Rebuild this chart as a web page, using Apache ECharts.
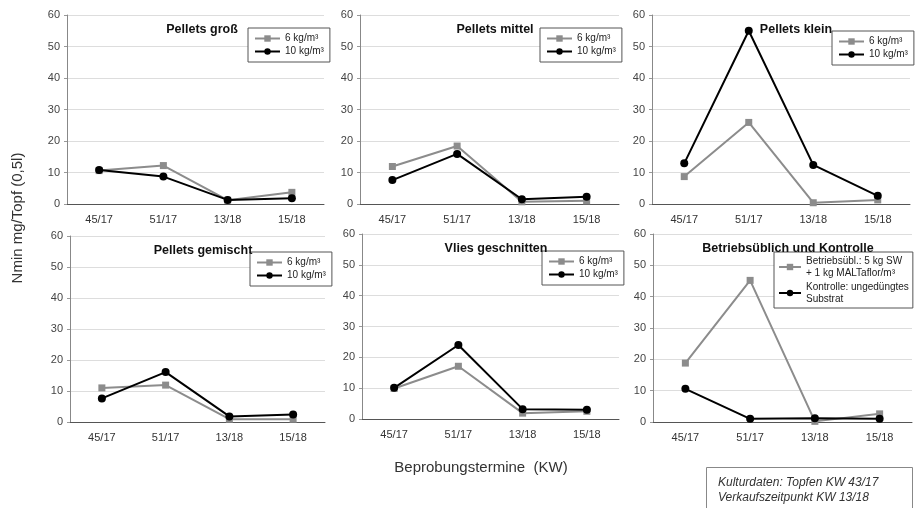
<!DOCTYPE html>
<html lang="de">
<head>
    <meta charset="UTF-8">
    <title>Nmin Pellets</title>
    <script src="https://cdn.jsdelivr.net/npm/echarts@6/dist/echarts.min.js"></script>
    <style>
        body { margin: 0; background: #fff; }
        #chart { width: 920px; height: 508px; }
    </style>
</head>
<body>
<div id="chart"></div>
<script type="text/javascript">
    // sampling dates (KW)
    let termine = ['45/17', '51/17', '13/18', '15/18'];
    let yTicks = [0, 10, 20, 30, 40, 50, 60];

    let titles = ['Pellets groß', 'Pellets mittel', 'Pellets klein',
        'Pellets gemischt', 'Vlies geschnitten', 'Betriebsüblich und Kontrolle'];

    // 6 kg/m³ (grey) values per panel
    let grossSechs = [10.6, 12.2, 1.2, 3.7];
    let mittelSechs = [11.9, 18.4, 0.7, 1.0];
    let kleinSechs = [8.7, 25.9, 0.4, 1.3];
    let gemischtSechs = [11.0, 11.9, 0.9, 0.9];
    let vliesSechs = [9.9, 17.1, 1.9, 2.5];
    let betriebsueblich = [18.8, 45.2, 0.2, 2.6];

    // 10 kg/m³ (black) values per panel
    let grossZehn = [10.8, 8.7, 1.3, 1.8];
    let mittelZehn = [7.6, 15.9, 1.5, 2.3];
    let kleinZehn = [12.9, 55.0, 12.4, 2.6];
    let gemischtZehn = [7.6, 16.1, 1.8, 2.4];
    let vliesZehn = [10.1, 24.0, 3.2, 3.0];
    let kontrolle = [10.6, 1.0, 1.2, 1.0];

    let greySeries = [grossSechs, mittelSechs, kleinSechs, gemischtSechs, vliesSechs, betriebsueblich];
    let blackSeries = [grossZehn, mittelZehn, kleinZehn, gemischtZehn, vliesZehn, kontrolle];

    let nameSechs = '6 kg/m³';
    let nameZehn = '10 kg/m³';
    let nameBetrieb = 'Betriebsübl.: 5 kg SW\n+ 1 kg MALTaflor/m³';
    let nameKontrolle = 'Kontrolle: ungedüngtes\nSubstrat';

    let font = 'Liberation Sans, Arial, sans-serif';

    // plot areas [left, top, width, height]
    let grids = [
        [67, 15, 257, 189],
        [360, 15, 259, 189],
        [652, 15, 258, 189],
        [70, 236, 255, 186],
        [362, 234, 257, 185],
        [653, 234, 259, 188]
    ];
    // title centres (x) and legend boxes [left, top]
    let titleX = [197, 490, 791, 198, 491, 783];
    let legendPos = [[248, 28], [540, 28], [832, 31], [250, 252], [542, 251], [774, 252]];

    let chart = echarts.init(document.getElementById('chart'));

    let option = {
        backgroundColor: '#fff',
        animation: false,
        textStyle: { fontFamily: font },
        title: [],
        legend: [],
        grid: [],
        xAxis: [],
        yAxis: [],
        series: [],
        graphic: [
            {
                type: 'text',
                x: 18, y: 218,
                rotation: Math.PI / 2,
                style: {
                    text: 'Nmin mg/Topf (0,5l)',
                    font: '15px ' + font,
                    fill: '#333',
                    align: 'center',
                    verticalAlign: 'middle'
                }
            },
            {
                type: 'text',
                x: 481, y: 468,
                style: {
                    text: 'Beprobungstermine  (KW)',
                    font: '15px ' + font,
                    fill: '#333',
                    align: 'center',
                    verticalAlign: 'middle'
                }
            },
            {
                type: 'rect',
                shape: { x: 706.5, y: 467.5, width: 206, height: 50 },
                style: { fill: '#fff', stroke: '#888', lineWidth: 1 }
            },
            {
                type: 'text',
                x: 718, y: 475,
                style: {
                    text: 'Kulturdaten: Topfen KW 43/17\nVerkaufszeitpunkt KW 13/18',
                    font: 'italic 12px ' + font,
                    fill: '#333',
                    verticalAlign: 'top',
                    lineHeight: 15
                }
            }
        ]
    };

    grids.forEach(function (g, i) {
        let last = i === 5;
        option.grid.push({ left: g[0], top: g[1], width: g[2], height: g[3], containLabel: false });
        option.title.push({
            text: titles[i],
            left: titleX[i],
            top: g[1] + 3,
            textAlign: 'center',
            textStyle: { fontSize: 12.5, fontWeight: 'bold', color: '#111', fontFamily: font }
        });
        option.xAxis.push({
            type: 'category',
            gridIndex: i,
            data: termine,
            boundaryGap: true,
            axisLine: { lineStyle: { color: '#555', width: 1 } },
            axisTick: { alignWithLabel: true, length: 3, lineStyle: { color: '#999' } },
            axisLabel: { color: '#333', fontSize: 11, margin: 10 }
        });
        option.yAxis.push({
            type: 'value',
            gridIndex: i,
            min: yTicks[0],
            max: yTicks[yTicks.length - 1],
            interval: 10,
            axisLine: { show: true, lineStyle: { color: '#888', width: 1 } },
            axisTick: { show: true, length: 3, lineStyle: { color: '#999' } },
            axisLabel: { color: '#444', fontSize: 11, margin: 7 },
            splitLine: { lineStyle: { color: '#ddd', width: 1 } }
        });
        let greyName = last ? nameBetrieb : nameSechs;
        let blackName = last ? nameKontrolle : nameZehn;
        option.series.push({
            name: greyName,
            type: 'line',
            xAxisIndex: i,
            yAxisIndex: i,
            data: greySeries[i],
            symbol: 'rect',
            symbolSize: 7,
            lineStyle: { color: '#8c8c8c', width: 2 },
            itemStyle: { color: '#8c8c8c' },
            z: 2
        });
        option.series.push({
            name: blackName,
            type: 'line',
            xAxisIndex: i,
            yAxisIndex: i,
            data: blackSeries[i],
            symbol: 'circle',
            symbolSize: 8,
            lineStyle: { color: '#000', width: 2 },
            itemStyle: { color: '#000' },
            z: 3
        });
        option.legend.push({
            data: [greyName, blackName],
            orient: 'vertical',
            left: legendPos[i][0],
            top: legendPos[i][1],
            backgroundColor: '#fff',
            borderColor: '#555',
            borderWidth: 1,
            borderRadius: 0,
            padding: last ? [3, 4, 3, 4] : [5, 6, 5, 6],
            itemGap: last ? 2 : 2,
            itemWidth: last ? 22 : 25,
            itemHeight: 8,
            selectedMode: false,
            textStyle: { fontSize: 10, color: '#222', fontFamily: font, lineHeight: last ? 12 : 11 }
        });
    });

    chart.setOption(option);
</script>
</body>
</html>
